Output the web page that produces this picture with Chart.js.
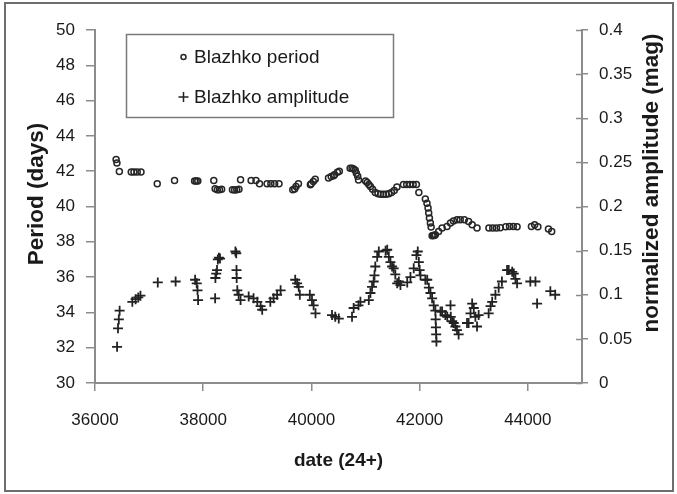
<!DOCTYPE html>
<html>
<head>
<meta charset="utf-8">
<script src="https://cdn.jsdelivr.net/npm/chart.js@4/dist/chart.umd.min.js"></script>
<style>
  html, body { margin: 0; padding: 0; background: #fff; }
  #wrap { width: 677px; height: 494px; }
</style>
</head>
<body>
<div id="wrap"><canvas id="c" width="677" height="494"></canvas></div>
<script>
// Blazhko period (days) versus date (JD 24+)
const periodDates = [
  36390, 36405, 36450, 36670, 36720, 36780, 36850, 37150, 37470, 37840,
  37870, 37900, 38195, 38220, 38260, 38300, 38340, 38540, 38580, 38620,
  38660, 38690, 38885, 38975, 39040, 39180, 39250, 39320, 39400, 39655,
  39690, 39715, 39760, 39980, 39995, 40035, 40070, 40315, 40365, 40410,
  40425, 40480, 40515, 40715, 40750, 40780, 40810, 40830, 40855, 40870,
  41000, 41030, 41060, 41090, 41130, 41180, 41230, 41280, 41330, 41380,
  41430, 41480, 41530, 41580, 41700, 41760, 41820, 41880, 41940, 41985,
  42105, 42135, 42155, 42167, 42180, 42198, 42211, 42230, 42250, 42270,
  42290, 42350, 42415, 42505, 42570, 42625, 42690, 42750, 42825, 42905,
  42970, 43060, 43280, 43350, 43420, 43490, 43590, 43660, 43730, 43800,
  44065, 44125, 44185, 44380, 44440
];
const periodDays = [
  42.66, 42.46, 41.98, 41.95, 41.95, 41.95, 41.95, 41.29, 41.48, 41.45,
  41.45, 41.45, 41.47, 41.00, 40.95, 40.95, 40.98, 40.95, 40.93, 40.95,
  40.98, 41.51, 41.47, 41.47, 41.29, 41.29, 41.29, 41.29, 41.29, 40.95,
  40.99, 41.13, 41.29, 41.23, 41.29, 41.42, 41.55, 41.61, 41.70, 41.74,
  41.80, 41.94, 42.00, 42.17, 42.17, 42.12, 42.06, 41.89, 41.72, 41.50,
  41.45, 41.36, 41.25, 41.13, 40.98, 40.80, 40.72, 40.70, 40.70, 40.70,
  40.72, 40.80, 40.90, 41.10, 41.25, 41.25, 41.25, 41.25, 41.25, 40.80,
  40.42, 40.19, 39.91, 39.63, 39.35, 39.06, 38.84, 38.34, 38.35, 38.36,
  38.40, 38.59, 38.78, 38.87, 39.06, 39.18, 39.25, 39.25, 39.25, 39.15,
  38.97, 38.78, 38.78, 38.78, 38.78, 38.80, 38.85, 38.87, 38.87, 38.85,
  38.87, 38.97, 38.85, 38.72, 38.59
];

// Blazhko amplitude (normalized, mag) versus date (JD 24+)
const ampDates = [
  36408, 36425, 36440, 36455, 36690, 36750, 36800, 36840, 37160, 37490,
  37850, 37880, 37895, 37905, 38220, 38225, 38240, 38255, 38270, 38290,
  38310, 38595, 38610, 38615, 38618, 38630, 38655, 38690, 38840, 38930,
  39000, 39060, 39090, 39240, 39300, 39365, 39430, 39700, 39735, 39765,
  39785, 39970, 40010, 40040, 40075, 40380, 40440, 40505, 40750, 40780,
  40870, 40905, 41060, 41090, 41120, 41150, 41165, 41180, 41215, 41245,
  41370, 41400, 41430, 41460, 41490, 41520, 41550, 41585, 41615, 41645,
  41770, 41830, 41890, 41940, 41965, 41985, 42000, 42015, 42105, 42140,
  42170, 42200, 42230, 42260, 42290, 42295, 42300, 42305, 42310, 42385,
  42415, 42475, 42510, 42570, 42575, 42600, 42630, 42660, 42690, 42720,
  42875, 42905, 42940, 42970, 43000, 43030, 43060, 43090, 43275, 43310,
  43340, 43400, 43460, 43520, 43615, 43645, 43710, 43740, 43770, 43800,
  44045, 44140, 44170, 44415, 44505
];
const ampMag = [
  0.041, 0.062, 0.072, 0.082, 0.092, 0.095, 0.097, 0.099, 0.114, 0.115,
  0.117, 0.113, 0.105, 0.094, 0.096, 0.119, 0.124, 0.128, 0.140, 0.142,
  0.141, 0.149, 0.147, 0.128, 0.119, 0.105, 0.100, 0.094, 0.098, 0.096,
  0.092, 0.087, 0.083, 0.092, 0.096, 0.100, 0.105, 0.117, 0.113, 0.109,
  0.100, 0.100, 0.094, 0.088, 0.079, 0.077, 0.075, 0.073, 0.075, 0.085,
  0.088, 0.092, 0.094, 0.102, 0.109, 0.115, 0.122, 0.132, 0.143, 0.149,
  0.150, 0.151, 0.143, 0.137, 0.132, 0.130, 0.123, 0.113, 0.115, 0.111,
  0.114, 0.120, 0.130, 0.145, 0.149, 0.137, 0.128, 0.122, 0.117, 0.117,
  0.108, 0.102, 0.096, 0.088, 0.082, 0.072, 0.063, 0.055, 0.047, 0.081,
  0.081, 0.077, 0.075, 0.088, 0.075, 0.070, 0.068, 0.064, 0.060, 0.055,
  0.068, 0.068, 0.079, 0.090, 0.085, 0.075, 0.064, 0.077, 0.079, 0.087,
  0.092, 0.100, 0.108, 0.115, 0.128, 0.128, 0.126, 0.124, 0.118, 0.113,
  0.115, 0.115, 0.090, 0.104, 0.100
];

// Axis ranges and tick labels
const dateRange = [36000, 45000];
const dateTicks = [36000, 38000, 40000, 42000, 44000];
const periodRange = [30, 50];
const periodStep = 2;
const ampRange = [0, 0.4];
const ampStep = 0.05;

const AXIS_GREY = '#8c8c8c';
const TEXT = '#1a1a1a';
const FONT = '"Liberation Sans", Arial, sans-serif';

const toXY = (xs, ys) => xs.map((x, i) => ({ x: x, y: ys[i] }));

// Whole-canvas white fill and thin outer frame
const frame = {
  id: 'frame',
  beforeDraw(chart) {
    const ctx = chart.ctx;
    ctx.save();
    ctx.fillStyle = '#fff';
    ctx.fillRect(0, 0, chart.width, chart.height);
    ctx.restore();
  },
  afterDraw(chart) {
    const ctx = chart.ctx;
    ctx.save();
    ctx.strokeStyle = '#6e6e6e';
    ctx.lineWidth = 2;
    ctx.strokeRect(5, 3, chart.width - 9, chart.height - 6);
    ctx.restore();
  }
};

// Right-hand axis uses tick marks that cross the axis line
const crossTicks = {
  id: 'crossTicks',
  afterDraw(chart) {
    const s = chart.scales.y1;
    const ctx = chart.ctx;
    ctx.save();
    ctx.strokeStyle = AXIS_GREY;
    ctx.lineWidth = 1.5;
    s.ticks.forEach(t => {
      const y = Math.round(s.getPixelForValue(t.value)) + 0.5;
      ctx.beginPath();
      ctx.moveTo(s.left - 6, y);
      ctx.lineTo(s.left, y);
      ctx.stroke();
    });
    ctx.restore();
  }
};

// Vertical axis titles, both reading bottom-to-top
const sideTitles = {
  id: 'sideTitles',
  afterDraw(chart) {
    const ctx = chart.ctx;
    const draw = (text, x, y) => {
      ctx.save();
      ctx.translate(x, y);
      ctx.rotate(-Math.PI / 2);
      ctx.font = 'bold 22.5px ' + FONT;
      ctx.fillStyle = TEXT;
      ctx.textAlign = 'center';
      ctx.textBaseline = 'middle';
      ctx.fillText(text, 0, 0);
      ctx.restore();
    };
    draw('Period (days)', 37, 194);
    draw('normalized amplitude (mag)', 652, 183);
  }
};

// Boxed legend inside the plot area
const boxLegend = {
  id: 'boxLegend',
  afterDraw(chart) {
    const ctx = chart.ctx;
    ctx.save();
    ctx.strokeStyle = '#7a7a7a';
    ctx.lineWidth = 1.5;
    ctx.strokeRect(126.5, 34.5, 267, 83);
    ctx.font = '19px ' + FONT;
    ctx.textBaseline = 'middle';
    ctx.textAlign = 'left';
    chart.data.datasets.forEach((ds, i) => {
      const y = 57 + i * 40;
      ctx.strokeStyle = ds.borderColor;
      ctx.fillStyle = 'rgba(0,0,0,0)';
      Chart.helpers.drawPoint(ctx, {
        pointStyle: ds.pointStyle,
        radius: i === 0 ? 2.5 : 5,
        borderWidth: 1.2,
        rotation: 0
      }, 183.5, y);
      ctx.fillStyle = TEXT;
      ctx.fillText(ds.label, 194, y + 1);
    });
    ctx.restore();
  }
};

new Chart(document.getElementById('c'), {
  type: 'scatter',
  data: {
    datasets: [
      {
        label: 'Blazhko period',
        data: toXY(periodDates, periodDays),
        yAxisID: 'y',
        pointStyle: 'circle',
        pointRadius: 3,
        pointBorderWidth: 1.5,
        borderColor: '#262626',
        backgroundColor: 'rgba(0,0,0,0)'
      },
      {
        label: 'Blazhko amplitude',
        data: toXY(ampDates, ampMag),
        yAxisID: 'y1',
        pointStyle: 'cross',
        pointRadius: 5,
        pointBorderWidth: 1.8,
        borderColor: '#222',
        backgroundColor: '#222'
      }
    ]
  },
  options: {
    responsive: false,
    animation: false,
    devicePixelRatio: 1,
    layout: { padding: { top: 30, left: 0, right: 0, bottom: 0 } },
    plugins: {
      legend: { display: false },
      tooltip: { enabled: false }
    },
    scales: {
      x: {
        type: 'linear',
        position: 'bottom',
        min: dateRange[0],
        max: dateRange[1],
        afterFit: s => { s.height = 111; },
        afterBuildTicks: s => { s.ticks = dateTicks.map(v => ({ value: v })); },
        border: { display: true, color: AXIS_GREY, width: 2 },
        grid: { drawOnChartArea: false, drawTicks: true, tickLength: 8, color: AXIS_GREY, lineWidth: 1.5 },
        ticks: {
          autoSkip: false,
          maxRotation: 0,
          padding: 19,
          color: TEXT,
          font: { family: FONT, size: 17 },
          callback: v => String(v)
        },
        title: {
          display: true,
          text: 'date (24+)',
          color: TEXT,
          font: { family: FONT, size: 19, weight: 'bold' },
          padding: { top: 0, bottom: 22 }
        }
      },
      y: {
        type: 'linear',
        position: 'left',
        min: periodRange[0],
        max: periodRange[1],
        afterFit: s => { s.width = 95; },
        border: { display: true, color: AXIS_GREY, width: 2 },
        grid: { drawOnChartArea: false, drawTicks: true, tickLength: 9, color: AXIS_GREY, lineWidth: 1.5 },
        ticks: {
          stepSize: periodStep,
          padding: 11,
          color: TEXT,
          font: { family: FONT, size: 17 },
          callback: v => String(v)
        },
        title: { display: false }
      },
      y1: {
        type: 'linear',
        position: 'right',
        min: ampRange[0],
        max: ampRange[1],
        afterFit: s => { s.width = 95; },
        border: { display: true, color: AXIS_GREY, width: 2 },
        grid: { drawOnChartArea: false, drawTicks: true, tickLength: 6, color: AXIS_GREY, lineWidth: 1.5 },
        ticks: {
          stepSize: ampStep,
          padding: 11,
          color: TEXT,
          font: { family: FONT, size: 17 },
          callback: v => String(+v.toFixed(2))
        },
        title: { display: false }
      }
    }
  },
  plugins: [frame, crossTicks, sideTitles, boxLegend]
});
</script>
</body>
</html>
